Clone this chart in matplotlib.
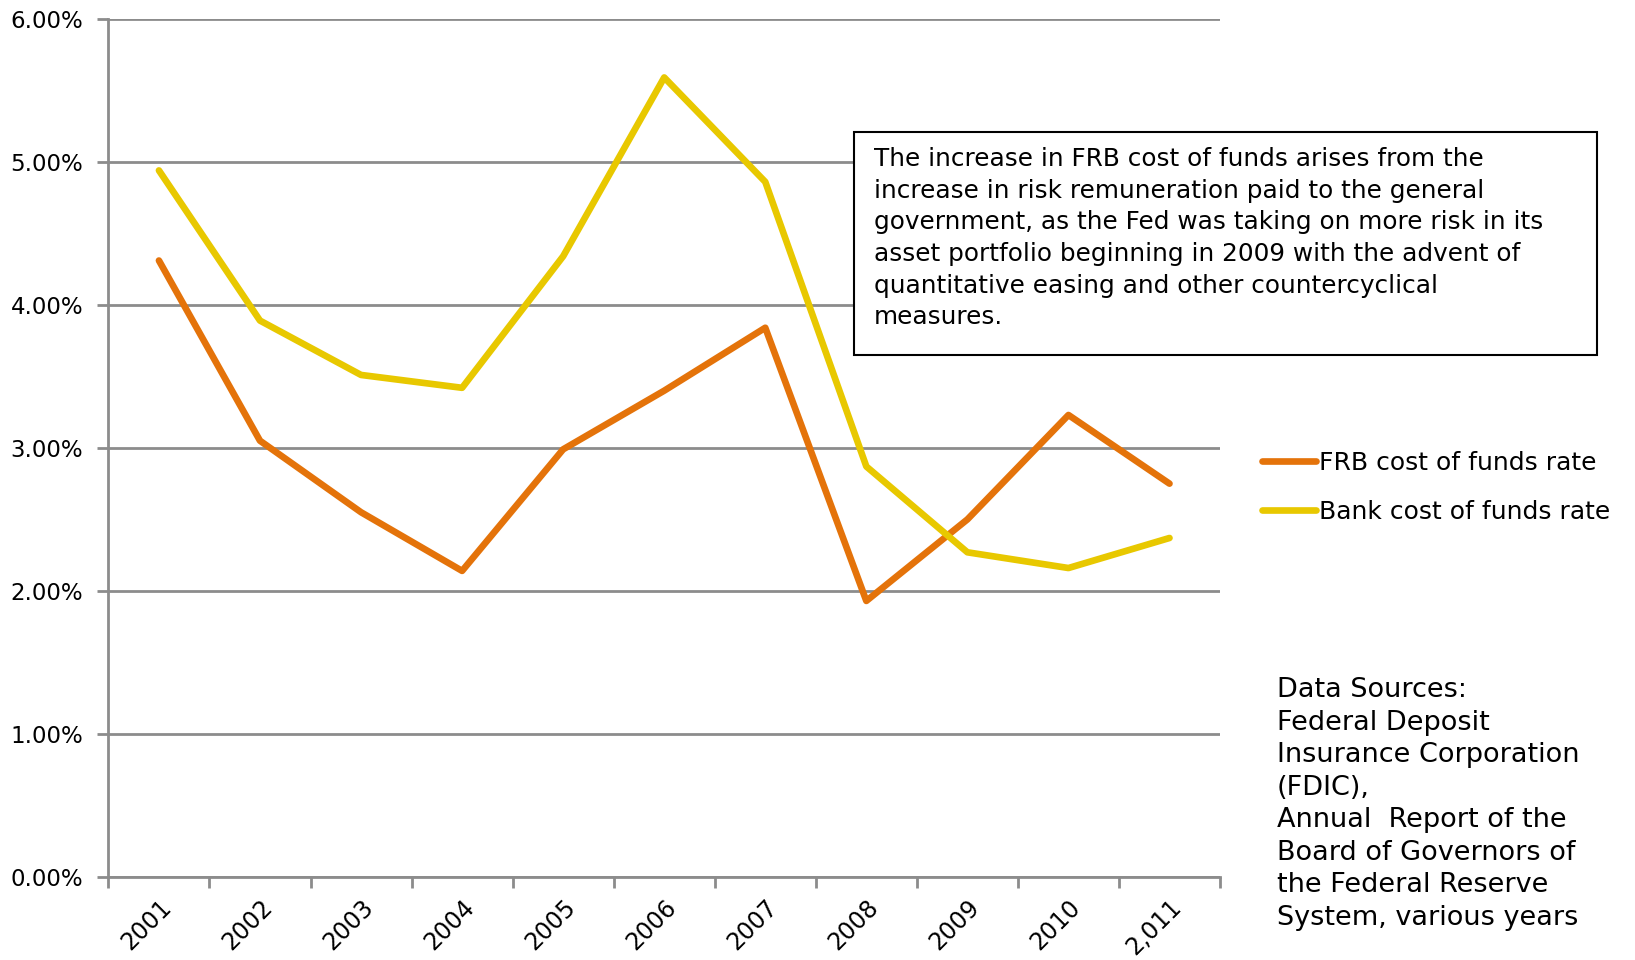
import matplotlib.pyplot as plt
from matplotlib.patches import Rectangle
import numpy as np

years = ["2001", "2002", "2003", "2004", "2005", "2006", "2007", "2008", "2009", "2010", "2,011"]
frb_rate = [4.31, 3.05, 2.55, 2.14, 2.99, 3.40, 3.84, 1.93, 2.50, 3.23, 2.75]
bank_rate = [4.94, 3.89, 3.51, 3.42, 4.34, 5.59, 4.86, 2.87, 2.27, 2.16, 2.37]
y_ticks = [0, 1, 2, 3, 4, 5, 6]

note = ("The increase in FRB cost of funds arises from the\n"
        "increase in risk remuneration paid to the general\n"
        "government, as the Fed was taking on more risk in its\n"
        "asset portfolio beginning in 2009 with the advent of\n"
        "quantitative easing and other countercyclical\n"
        "measures.")
sources = ("Data Sources:\nFederal Deposit\nInsurance Corporation\n(FDIC),\n"
           "Annual  Report of the\nBoard of Governors of\nthe Federal Reserve\nSystem, various years")

plt.rcParams['font.family'] = ['DejaVu Sans']
grid_col = "#8c8c8c"

fig = plt.figure(figsize=(16.35, 9.6), dpi=100)
ax = fig.add_axes([0.0663, 0.0865, 0.6799, 0.8939])

x = np.arange(len(years))
ax.plot(x, frb_rate, color="#E4730A", lw=4.8, solid_capstyle="round",
        solid_joinstyle="round", label="FRB cost of funds rate", zorder=3)
ax.plot(x, bank_rate, color="#E8C800", lw=4.8, solid_capstyle="round",
        solid_joinstyle="round", label="Bank cost of funds rate", zorder=3)

ax.set_xlim(-0.5, len(years) - 0.5)
ax.set_ylim(0, 6)
ax.set_yticks(y_ticks)
ax.set_yticklabels(["%.2f%%" % v for v in y_ticks], fontsize=16.5)
ax.grid(axis="y", color=grid_col, lw=2)
ax.set_axisbelow(True)

ax.set_xticks(np.arange(len(years) + 1) - 0.5)
ax.set_xticklabels([])
ax.set_xticks(x, minor=True)
ax.set_xticklabels(years, minor=True, rotation=45, ha="right", va="top",
                   rotation_mode="anchor", fontsize=17)
ax.tick_params(axis="x", which="major", length=8, width=2, color=grid_col)
ax.tick_params(axis="x", which="minor", length=0, pad=13)
ax.tick_params(axis="y", length=8, width=2, color=grid_col, pad=10)

for side in ["top", "right"]:
    ax.spines[side].set_visible(False)
for side in ["left", "bottom"]:
    ax.spines[side].set_color(grid_col)
    ax.spines[side].set_linewidth(2)

fig.legend(loc="center left", bbox_to_anchor=(0.7718, 0.4925), frameon=False,
           fontsize=18, handlelength=2.15, handletextpad=0.15, labelspacing=1.0,
           borderpad=0, borderaxespad=0)

fig.patches.append(Rectangle((0.5223, 0.630), 0.4545, 0.2325, transform=fig.transFigure,
                             fc="white", ec="black", lw=1.5, zorder=5))
fig.text(0.5345, 0.7518, note, fontsize=17.8, va="center", ha="left",
         linespacing=1.40, zorder=6)

fig.text(0.781, 0.1625, sources, fontsize=19.5, va="center", ha="left", linespacing=1.33)

fig.savefig("out.png", dpi=100)
